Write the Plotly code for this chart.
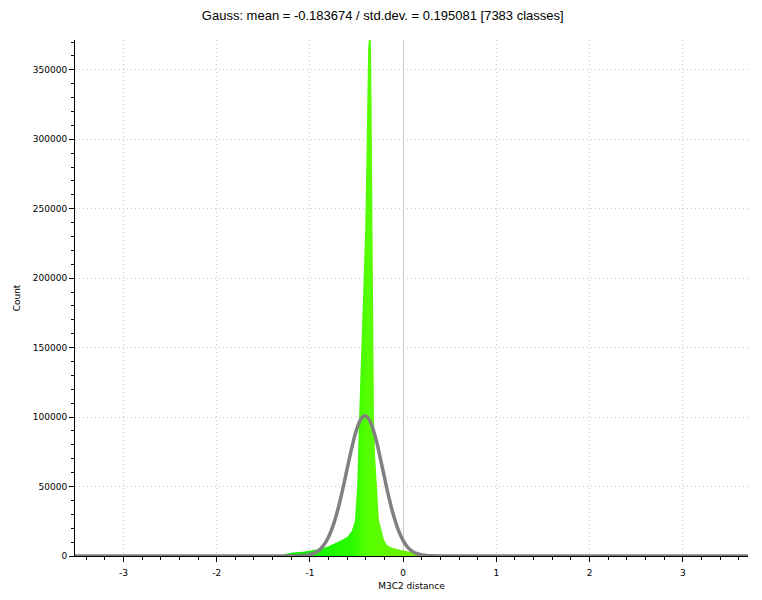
import plotly.graph_objects as go

# Histogram outline (M3C2 distance -> count)
hist_x = [-1.375, -1.322, -1.268, -1.183, -1.075, -0.979, -0.893, -0.818, -0.732, -0.657,
          -0.594, -0.551, -0.518, -0.493, -0.472, -0.448, -0.429, -0.407, -0.392, -0.383,
          -0.375, -0.368, -0.346, -0.339, -0.336, -0.328, -0.313, -0.302, -0.279, -0.260,
          -0.232, -0.207, -0.175, -0.121, -0.035, 0.050, 0.125, 0.200, 0.286, 0.393]
hist_y = [0, 400, 1500, 2500, 3000, 3800, 5000, 6500, 9000, 11500,
          14000, 18000, 25000, 50000, 100000, 150000, 195000, 234000, 292000, 350000,
          366000, 371500, 371500, 330000, 292000, 200000, 100000, 74000, 50000, 26000,
          18700, 12000, 8000, 6000, 4500, 3300, 2200, 1200, 500, 0]

# Fitted Gauss curve
gauss_x = [-3.52, -1.40, -1.30, -1.20, -1.10, -1.05, -1.00, -0.95, -0.90, -0.85, -0.80,
           -0.75, -0.70, -0.65, -0.60, -0.55, -0.50, -0.45, -0.41, -0.40, -0.35, -0.30,
           -0.25, -0.20, -0.15, -0.10, -0.05, 0.00, 0.05, 0.10, 0.15, 0.20, 0.25, 0.30,
           0.40, 0.50, 3.70]
gauss_y = [0, 0, 3, 28, 193, 462, 1038, 2185, 4299, 7920, 13670,
           22090, 33430, 47350, 62830, 78050, 90800, 98900, 101000, 100870, 96340, 86140,
           72130, 56560, 41520, 28540, 18370, 11080, 6251, 3304, 1634, 757, 329, 134,
           18, 2, 0]

x_tickvals = [-3, -2, -1, 0, 1, 2, 3]
x_ticktext = ["-3", "-2", "-1", "0", "1", "2", "3"]
y_tickvals = [0, 50000, 100000, 150000, 200000, 250000, 300000, 350000]
y_ticktext = ["0", "50000", "100000", "150000", "200000", "250000", "300000", "350000"]

title_text = "Gauss: mean = -0.183674 / std.dev. = 0.195081 [7383 classes]"
x_title = "M3C2 distance"
y_title = "Count"

fig = go.Figure()
fig.add_trace(go.Scatter(
    x=hist_x, y=hist_y, mode="lines", fill="tozeroy",
    line=dict(width=0, color="rgba(0,0,0,0)"),
    fillgradient=dict(type="horizontal", start=-1.4, stop=0.45,
                      colorscale=[[0.0, "rgb(0,235,0)"], [0.45, "rgb(40,250,0)"],
                                  [0.55, "rgb(85,255,0)"], [1.0, "rgb(135,225,0)"]]),
    hoverinfo="skip", showlegend=False))
fig.add_trace(go.Scatter(
    x=gauss_x, y=gauss_y, mode="lines",
    line=dict(color="rgb(128,128,128)", width=3.5, shape="spline"),
    showlegend=False))

axis_font = dict(family="DejaVu Sans", size=9, color="black")
grid_dash = "1px,3px"
fig.update_layout(
    width=754, height=592,
    margin=dict(l=67, r=14, t=32, b=44),
    paper_bgcolor="white", plot_bgcolor="white",
    title=dict(text=title_text, x=0.497, xanchor="center", y=0.987, yanchor="middle",
               font=dict(family="Liberation Sans", size=13, color="black")),
    font=axis_font,
)
fig.update_xaxes(
    range=[-3.52, 3.70], tickvals=x_tickvals, ticktext=x_ticktext,
    showline=True, linecolor="black", linewidth=1,
    ticks="outside", ticklen=5, tickcolor="black", ticklabelstandoff=3,
    showgrid=True, gridcolor="#c8c8c8", griddash=grid_dash, gridwidth=1,
    zeroline=True, zerolinecolor="#c8c8c8", zerolinewidth=1,
    minor=dict(ticks="outside", ticklen=3, dtick=0.2, tick0=0, tickcolor="black", showgrid=False),
    title=dict(text=x_title, font=axis_font, standoff=5),
    tickfont=axis_font, automargin=False,
)
fig.update_yaxes(
    range=[0, 371500], tickvals=y_tickvals, ticktext=y_ticktext,
    showline=True, linecolor="black", linewidth=1,
    ticks="outside", ticklen=5, tickcolor="black",
    showgrid=True, gridcolor="#c8c8c8", griddash=grid_dash, gridwidth=1,
    zeroline=False,
    minor=dict(ticks="outside", ticklen=3, dtick=10000, tick0=0, tickcolor="black", showgrid=False),
    title=dict(text=y_title, font=axis_font, standoff=10),
    tickfont=axis_font, automargin=False,
)

fig.write_html("out.html")
